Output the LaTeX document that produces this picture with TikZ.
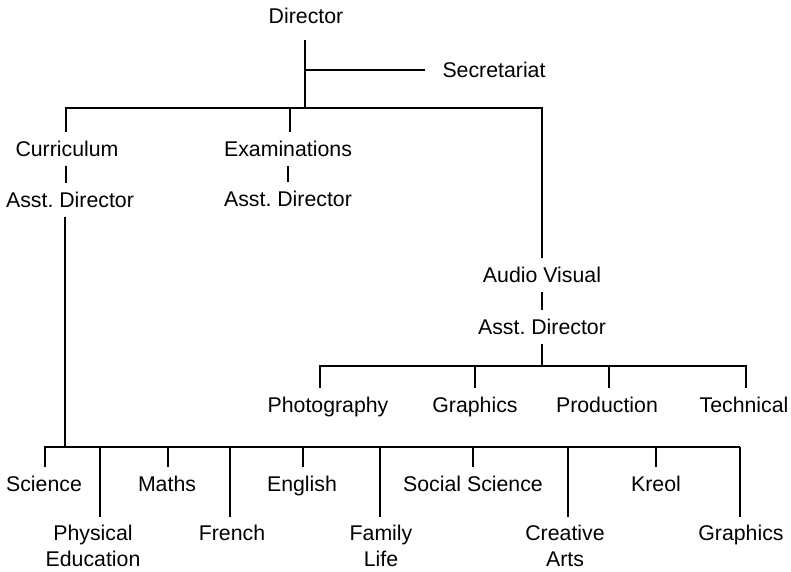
\documentclass[tikz,border=0pt]{standalone}
\usepackage{fontspec}
\setmainfont{Liberation Sans}
\usetikzlibrary{calc}
\frenchspacing
\newcommand{\orgfont}{\fontsize{21.3}{26}\selectfont}
\tikzset{
  unit/.style={font=\orgfont, inner xsep=2pt, inner ysep=9pt, text height=15.3pt, text depth=0pt},
  unittwo/.style={font=\orgfont, inner xsep=2pt, inner ysep=2pt, align=center, anchor=north},
  link/.style={line width=1.3pt},
  longlink/.style={link, shorten >=6pt}
}

\begin{document}
\begin{tikzpicture}[x=1pt, y=-1pt]
        \useasboundingbox (0,0) rectangle (791,571);

        % Director and Secretariat
        \node[unit] (dir) at (306,16) {Director};
        \node[unit] (sec) at (494,70) {Secretariat};
        \coordinate (secj) at (305,70);
        \coordinate (topj) at (305,108);
        \draw[link, shorten <=7pt] (dir.south -| topj) -- (topj);
        \draw[link, shorten >=15pt] (secj) -- (sec.west);

        % Three branches
        \node[unit] (cur) at (67,149) {Curriculum};
        \node[unit] (curasst) at (70,200) {Asst. Director};
        \node[unit] (exam) at (288,149) {Examinations};
        \node[unit] (examasst) at (288,199) {Asst. Director};
        \node[unit] (av) at (542,275) {Audio Visual};
        \node[unit] (avasst) at (542,327) {Asst. Director};
        \coordinate (curx) at (66,108);
        \coordinate (examx) at (290,108);
        \draw[link] (cur.north -| curx) |- (topj) -| (av.north);
        \draw[link] (examx) -- (examx |- exam.north);
        \draw[link] (cur.south -| curx) -- (curx |- curasst.north);
        \draw[link] (exam.south) -- (exam.south |- examasst.north);
        \draw[link] (av.south) -- (avasst.north);

        % Audio Visual units
        \node[unit] (photo) at (328,405) {Photography};
        \node[unit] (avgfx) at (475,405) {Graphics};
        \node[unit] (prod) at (607,405) {Production};
        \node[unit] (tech) at (744,405) {Technical};
        \coordinate (avbar) at (542,366);
        \coordinate (photox) at (320,366);
        \coordinate (avgfxx) at (475,366);
        \coordinate (prodx) at (609,366);
        \coordinate (techx) at (746,366);
        \draw[link] (avasst.south) -- (avbar);
        \draw[link] (photox |- photo.north) -- (photox) -- (techx) -- (techx |- tech.north);
        \draw[link] (avgfxx) -- (avgfxx |- avgfx.north);
        \draw[link] (prodx) -- (prodx |- prod.north);

        % Curriculum subjects
        \node[unit] (sci) at (44,484) {Science};
        \node[unit] (maths) at (167,484) {Maths};
        \node[unit] (eng) at (302,484) {English};
        \node[unit] (soc) at (473,484) {Social Science};
        \node[unit] (kreol) at (656,484) {Kreol};
        \node[unittwo] (pe) at (93,523) {Physical\\Education};
        \node[unittwo] (fre) at (232,523) {French};
        \node[unittwo] (fam) at (381,523) {Family\\Life};
        \node[unittwo] (cre) at (565,523) {Creative\\Arts};
        \node[unittwo] (gfx) at (741,523) {Graphics};
        \coordinate (botj) at (65,447);
        \coordinate (scix) at (45,447);
        \coordinate (gfxx) at (740,447);
        \coordinate (mathsx) at (168,447);
        \coordinate (engx) at (303,447);
        \coordinate (socx) at (473,447);
        \coordinate (kreolx) at (656,447);
        \coordinate (pex) at (100,447);
        \coordinate (frex) at (230,447);
        \coordinate (famx) at (380,447);
        \coordinate (crex) at (568,447);
        \draw[link] (curasst.south -| botj) -- (botj);
        \draw[link] (scix |- sci.north) -- (scix) -- (gfxx);
        \draw[longlink] (gfxx) -- (gfxx |- gfx.north);
        \draw[link] (mathsx) -- (mathsx |- maths.north);
        \draw[link] (engx) -- (engx |- eng.north);
        \draw[link] (socx) -- (socx |- soc.north);
        \draw[link] (kreolx) -- (kreolx |- kreol.north);
        \draw[longlink] (pex) -- (pex |- pe.north);
        \draw[longlink] (frex) -- (frex |- fre.north);
        \draw[longlink] (famx) -- (famx |- fam.north);
        \draw[longlink] (crex) -- (crex |- cre.north);
\end{tikzpicture}
\end{document}
